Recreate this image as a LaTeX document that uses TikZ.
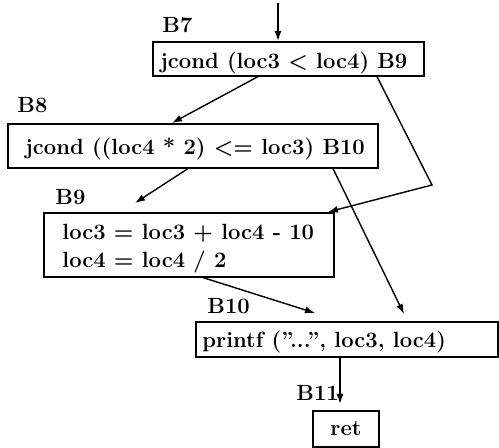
\documentclass[tikz,border=0pt]{standalone}
\usetikzlibrary{arrows.meta}
\begin{document}
\begin{tikzpicture}[x=0.5pt,y=-0.5pt,
  font=\fontsize{11}{14}\selectfont\bfseries\boldmath,
  blk/.style={draw, line width=0.8pt, anchor=north west, inner sep=0pt},
  txt/.style={anchor=base west, inner sep=0pt},
  arr/.style={line width=0.7pt, -{Latex[length=5pt,width=3.5pt]}},
  ln/.style={line width=0.7pt}]
\useasboundingbox (0,0) rectangle (499,448);
% boxes
\node[blk, minimum width=135.5pt, minimum height=17pt] (b7) at (152,41) {};
\node[blk, minimum width=185pt, minimum height=22pt] (b8) at (7,123) {};
\node[blk, minimum width=145pt, minimum height=32pt] (b9) at (43,212) {};
\node[blk, minimum width=151pt, minimum height=17.5pt] (b10) at (195,321) {};
\node[blk, minimum width=33pt, minimum height=18pt] (ret) at (312,410) {};
% texts
\node[txt] (t7) at (160,69) {jcond (loc3 $<$ loc4) B9};
\node[txt] (t8) at (25,155) {jcond ((loc4 * 2) $<=$ loc3) B10};
\node[txt] (t9a) at (62,240) {loc3 $=$ loc3 $+$ loc4 - 10};
\node[txt] (t9b) at (62,268) {loc4 $=$ loc4 / 2};
\node[txt] (t10) at (202,348) {printf (''...'', loc3, loc4)};
\node[txt] (tret) at (330,436) {ret};
% labels
\node[txt] (l7) at (162,33) {B7};
\node[txt] (l8) at (17,113) {B8};
\node[txt] (l9) at (55,205) {B9};
\node[txt] (l10) at (207,314) {B10};
\node[txt] (l11) at (296,401) {B11};
% connectors
\coordinate (top) at (278,3);
\coordinate (c1) at (432,185);
\draw[arr] (top) -- ([xshift=63pt]b7.north west);
\draw[arr] ([xshift=53pt]b7.south west) -- ([xshift=82.5pt]b8.north west);
\draw[arr] ([xshift=112.5pt]b7.south west) -- (c1) -- ([xshift=142.5pt]b9.north west);
\draw[arr] ([xshift=90.5pt]b8.south west) -- ([xshift=46pt,yshift=4.5pt]b9.north west);
\draw[arr] ([xshift=163pt]b8.south west) -- ([xshift=104.5pt,yshift=3.5pt]b10.north west);
\draw[arr] ([xshift=80pt]b9.south west) -- ([xshift=60pt,yshift=4pt]b10.north west);
\draw[arr] ([xshift=72.5pt]b10.south west) -- ([xshift=14pt,yshift=3pt]ret.north west);
\end{tikzpicture}
\end{document}
